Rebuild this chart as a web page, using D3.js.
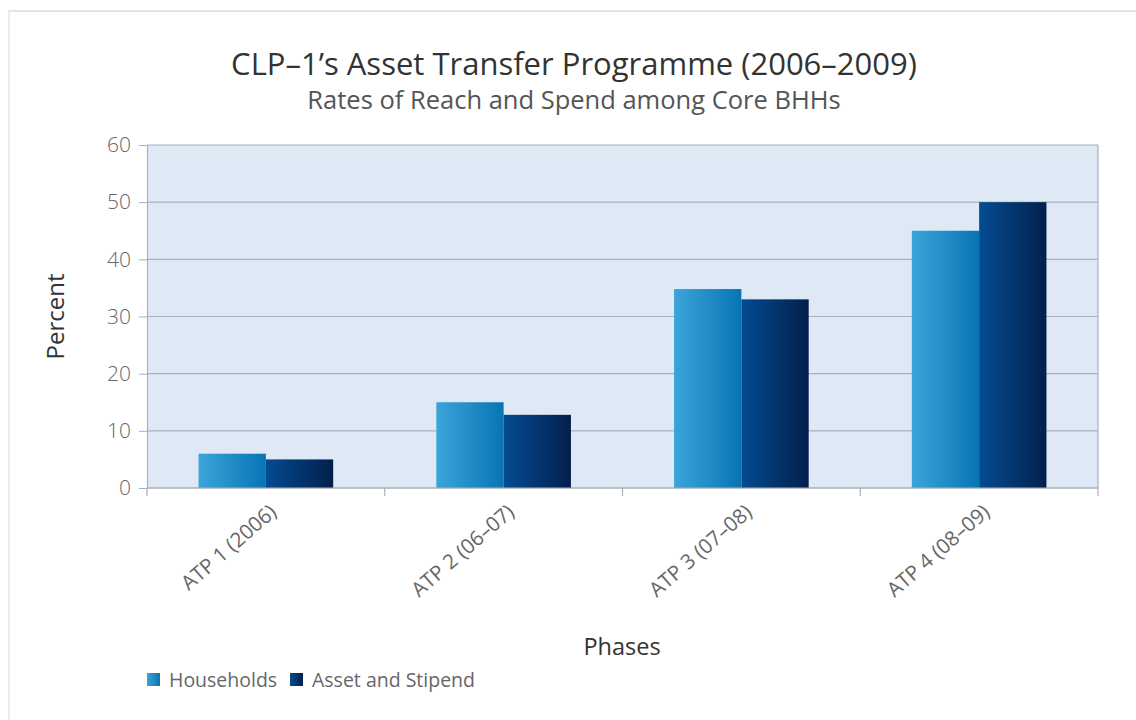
<!DOCTYPE html>
<html>
<head>
<meta charset="utf-8">
<script src="https://cdn.jsdelivr.net/npm/d3@7"></script>
<style>
  body { margin: 0; background: #fff; }
  text { font-family: "Open Sans", sans-serif; }
</style>
</head>
<body>
<div id="chart"></div>
<script>
// phases and values (percent of core BHHs)
var phases = ["ATP 1 (2006)", "ATP 2 (06–07)", "ATP 3 (07–08)", "ATP 4 (08–09)"];
var seriesNames = ["Households", "Asset and Stipend"];
var households = [6, 15, 34.8, 45];
var assetStipend = [5, 12.8, 33, 50];
var yTicks = [0, 10, 20, 30, 40, 50, 60];

var width = 1136, height = 720;
var margin = {top: 145, right: 38, bottom: 232, left: 147};

var svg = d3.select("#chart").append("svg")
    .attr("width", width)
    .attr("height", height);

// gradients for the bars
var defs = svg.append("defs");
var grads = [
    {id: "gHouse", from: "#3ba5da", to: "#0874b3"},
    {id: "gAsset", from: "#034c92", to: "#031f4c"}
];
grads.forEach(function(g){
    var lg = defs.append("linearGradient").attr("id", g.id)
        .attr("x1", "0%").attr("x2", "100%").attr("y1", "0%").attr("y2", "0%");
    lg.append("stop").attr("offset", "0%").attr("stop-color", g.from);
    lg.append("stop").attr("offset", "100%").attr("stop-color", g.to);
});

// faint frame
svg.append("line").attr("x1", 8).attr("x2", width).attr("y1", 11).attr("y2", 11)
    .attr("stroke", "#e4e4e4").attr("stroke-width", 2);
svg.append("line").attr("x1", 9).attr("x2", 9).attr("y1", 11).attr("y2", height)
    .attr("stroke", "#ececec").attr("stroke-width", 2);

var innerW = width - margin.left - margin.right;
var innerH = height - margin.top - margin.bottom;

var x0 = d3.scaleBand().domain(phases).range([0, innerW]).padding(0);
var x1 = d3.scaleBand().domain(seriesNames).range([0, x0.bandwidth()])
    .paddingInner(0).paddingOuter(0.766);
var y = d3.scaleLinear().domain([0, 60]).range([innerH, 0]);

var g = svg.append("g").attr("transform", "translate(" + margin.left + "," + margin.top + ")");

// plot background
g.append("rect").attr("width", innerW).attr("height", innerH).attr("fill", "#dfe9f6");

// gridlines
g.selectAll(".grid").data(yTicks).enter().append("line")
    .attr("x1", 0).attr("x2", innerW)
    .attr("y1", function(d){ return y(d); }).attr("y2", function(d){ return y(d); })
    .attr("stroke", "#a9b1ba").attr("stroke-width", 1.2);

// right border
g.append("line").attr("x1", innerW).attr("x2", innerW).attr("y1", 0).attr("y2", innerH)
    .attr("stroke", "#a9b1ba").attr("stroke-width", 1.2);

// bars
var rows = phases.map(function(p, i){
    return {phase: p, values: [households[i], assetStipend[i]]};
});
var fills = ["url(#gHouse)", "url(#gAsset)"];

var groups = g.selectAll(".phase").data(rows).enter().append("g")
    .attr("transform", function(d){ return "translate(" + x0(d.phase) + ",0)"; });

groups.selectAll("rect").data(function(d){ return d.values; }).enter().append("rect")
    .attr("x", function(d, i){ return x1(seriesNames[i]); })
    .attr("width", x1.bandwidth())
    .attr("y", function(d){ return y(d); })
    .attr("height", function(d){ return innerH - y(d); })
    .attr("fill", function(d, i){ return fills[i]; });

// y axis
var yAxis = g.append("g")
    .call(d3.axisLeft(y).tickValues(yTicks).tickSize(8).tickPadding(8));
yAxis.select(".domain").attr("stroke", "#a9b1ba").attr("stroke-width", 1.2);
yAxis.selectAll(".tick line").attr("stroke", "#a9b1ba");
yAxis.selectAll(".tick text")
    .attr("font-size", 21).attr("fill", "#666").attr("font-weight", 300)
    .style("font-family", "'Open Sans', sans-serif");

// x axis: ticks at band boundaries
var xAxisG = g.append("g").attr("transform", "translate(0," + innerH + ")");
xAxisG.append("line").attr("x1", 0).attr("x2", innerW)
    .attr("stroke", "#a9b1ba").attr("stroke-width", 1.2);
var bounds = phases.map(function(p){ return x0(p); }).concat([innerW]);
xAxisG.selectAll(".xt").data(bounds).enter().append("line")
    .attr("x1", function(d){ return d; }).attr("x2", function(d){ return d; })
    .attr("y1", 0).attr("y2", 8)
    .attr("stroke", "#a9b1ba").attr("stroke-width", 1.2);

xAxisG.selectAll(".xl").data(phases).enter().append("text")
    .attr("transform", function(d){
        return "translate(" + (x0(d) + x0.bandwidth() / 2 + 12) + ",26) rotate(-41)";
    })
    .attr("text-anchor", "end")
    .attr("font-size", 20.5).attr("fill", "#666")
    .text(function(d){ return d; });

// titles
svg.append("text").attr("x", 574).attr("y", 75).attr("text-anchor", "middle")
    .attr("font-size", 31).attr("fill", "#333")
    .text("CLP–1’s Asset Transfer Programme (2006–2009)");
svg.append("text").attr("x", 574).attr("y", 109).attr("text-anchor", "middle")
    .attr("font-size", 25.5).attr("fill", "#555")
    .text("Rates of Reach and Spend among Core BHHs");

svg.append("text")
    .attr("transform", "translate(64," + (margin.top + innerH / 2) + ") rotate(-90)")
    .attr("text-anchor", "middle").attr("font-size", 24).attr("fill", "#333")
    .text("Percent");

svg.append("text").attr("x", 622).attr("y", 655).attr("text-anchor", "middle")
    .attr("font-size", 23.5).attr("fill", "#333")
    .text("Phases");

// legend
var legX = [147, 290];
var leg = svg.selectAll(".leg").data(seriesNames).enter().append("g")
    .attr("transform", function(d, i){ return "translate(" + legX[i] + ",673)"; });
leg.append("rect").attr("width", 13).attr("height", 13)
    .attr("fill", function(d, i){ return fills[i]; });
leg.append("text").attr("x", 22).attr("y", 14)
    .attr("font-size", 19.5).attr("fill", "#666")
    .text(function(d){ return d; });
</script>
</body>
</html>
